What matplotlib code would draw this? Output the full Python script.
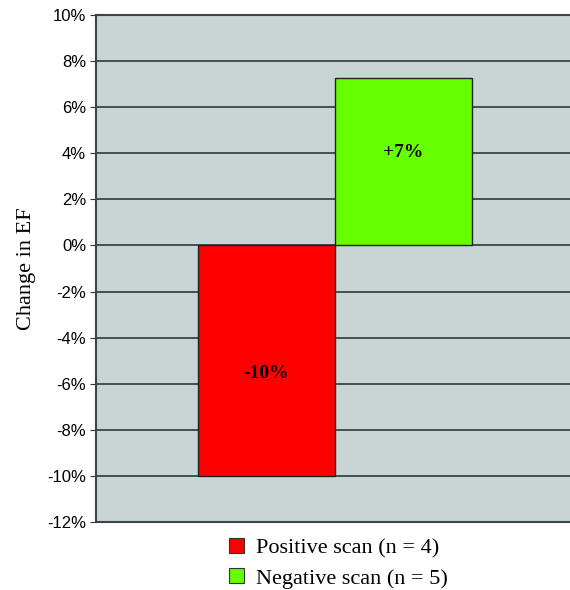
import matplotlib
matplotlib.use('Agg')
import matplotlib.pyplot as plt
from matplotlib.patches import Patch

# data
categories = ['Positive scan (n = 4)', 'Negative scan (n = 5)']
changes = [-10.0, 7.25]
bar_labels = ['-10%', '+7%']
colors = ['#ff0000', '#66ff00']
yticks = list(range(-12, 11, 2))

fig = plt.figure(figsize=(5.7, 5.9), dpi=100)
ax = fig.add_axes([0.168, 0.115, 0.832, 0.86])
ax.set_facecolor('#c9d5d5')

ax.set_axisbelow(True)
ax.yaxis.grid(True, color='#3c4444', linewidth=1.3)

xs = list(range(len(changes)))
bars = ax.bar(xs, changes, width=1.0, color=colors, edgecolor='#222222', linewidth=1.0)

# labels sit a little past the middle of each bar
for x, v, lab in zip(xs, changes, bar_labels):
    ax.text(x, v * 0.555, lab, ha='center', va='center', fontsize=14,
            fontweight='bold', family='Liberation Serif')

ax.set_xlim(-1.245, 2.215)
ax.set_ylim(-12, 10)
ax.set_yticks(yticks)
ax.set_yticklabels([f'{t}%' for t in yticks], family='Liberation Sans', fontsize=12)
ax.set_xticks([])
ax.tick_params(axis='y', length=4, color='#333333', pad=3)

for s in ['top', 'bottom', 'left']:
    ax.spines[s].set_color('#3c4444')
    ax.spines[s].set_linewidth(1.5)
ax.spines['right'].set_visible(False)

ax.set_ylabel('Change in EF', family='Liberation Serif', fontsize=16, labelpad=8)

handles = [Patch(facecolor=c, edgecolor='#333333', linewidth=0.8) for c in colors]
fig.legend(handles, categories, loc='upper left', bbox_to_anchor=(0.402, 0.088),
           frameon=False, prop={'family': 'Liberation Serif', 'size': 16},
           handlelength=0.65, handleheight=0.65, handletextpad=0.55,
           labelspacing=0.45, borderaxespad=0, borderpad=0)

fig.savefig('out.png', dpi=100)
